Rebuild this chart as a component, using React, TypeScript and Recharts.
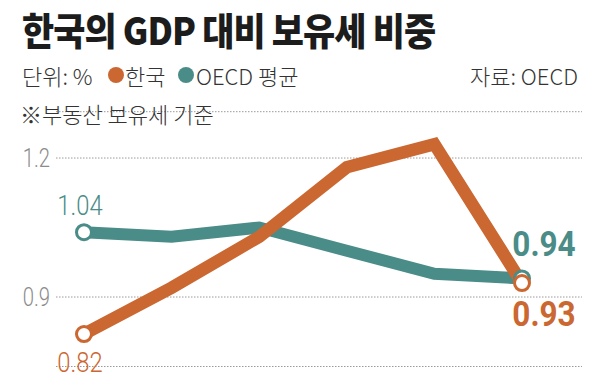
import React from 'react';
import {
  LineChart,
  Line,
  XAxis,
  YAxis,
  CartesianGrid,
  LabelList
} from 'recharts';

// 보유세 / GDP (%), 6개 시점
const periods = ['1', '2', '3', '4', '5', '6'];
const korea = [0.82, 0.92, 1.03, 1.18, 1.23, 0.93];
const oecd = [1.04, 1.03, 1.05, 1.0, 0.95, 0.94];
const yTicks = [0.9, 1.2];

const KOREA_COLOR = '#CB6731';
const OECD_COLOR = '#4A8C87';
const FONT = '"Noto Sans CJK KR", "Noto Sans", sans-serif';
const NUM_FONT = 'Roboto, "Noto Sans", sans-serif';

const chartData = periods.map((p, i) => ({
  idx: i,
  period: p,
  korea: korea[i],
  oecd: oecd[i]
}));

const lastIndex = periods.length - 1;

// 처음과 마지막 점에만 흰 원
function endDot(color: string) {
  return (props: any) => {
    const { cx, cy, index } = props;
    if (index !== 0 && index !== lastIndex) return <g key={`d-${index}`} />;
    return (
      <circle
        key={`d-${index}`}
        cx={cx}
        cy={cy}
        r={7.5}
        fill="#fff"
        stroke={color}
        strokeWidth={3}
      />
    );
  };
}

function YTick(props: any) {
  const { x, y, payload } = props;
  return (
    <text
      transform={`translate(${x},${y}) scale(0.78,1)`}
      textAnchor="end"
      dominantBaseline="central"
      fill="#8c8c8c"
      fontFamily={NUM_FONT}
      fontWeight={300}
      fontSize={26}
    >
      {payload.value}
    </text>
  );
}

// 시작값은 가는 글씨, 끝값은 굵은 글씨
function endLabel(color: string, startDy: number, endDy: number) {
  return (props: any) => {
    const { x, y, value, index } = props;
    if (index === 0) {
      return (
        <text
          transform={`translate(${x - 4},${y + startDy}) scale(0.85,1)`}
          textAnchor="middle"
          fill={color}
          fontFamily={NUM_FONT}
          fontWeight={300}
          fontSize={28}
        >
          {Number(value).toFixed(2)}
        </text>
      );
    }
    if (index === lastIndex) {
      return (
        <text
          transform={`translate(${x + 22},${y + endDy}) scale(0.9,1)`}
          textAnchor="middle"
          fill={color}
          fontFamily={NUM_FONT}
          fontWeight={700}
          fontSize={35}
        >
          {Number(value).toFixed(2)}
        </text>
      );
    }
    return null;
  };
}

export default function App() {
  return (
    <div
      style={{
        position: 'absolute',
        left: 0,
        top: 0,
        width: 609,
        height: 378,
        background: '#fff',
        fontFamily: FONT,
        overflow: 'hidden'
      }}
    >
      <LineChart
        width={609}
        height={378}
        data={chartData}
        margin={{ top: 111.7, right: 27, bottom: 11.5, left: 0 }}
        style={{ overflow: 'visible' }}
      >
        <CartesianGrid
          vertical={false}
          stroke="#9a9a9a"
          strokeDasharray="1.5 1.5"
        />
        <XAxis
          dataKey="idx"
          type="number"
          domain={[-0.3196, 5.685]}
          hide
        />
        <YAxis
          domain={[0.75, 1.3]}
          ticks={yTicks}
          width={56}
          axisLine={false}
          tickLine={false}
          tickMargin={0}
          tick={<YTick />}
        />
        <Line
          dataKey="oecd"
          stroke={OECD_COLOR}
          strokeWidth={12}
          dot={endDot(OECD_COLOR)}
          activeDot={false}
          isAnimationActive={false}
        >
          <LabelList dataKey="oecd" content={endLabel(OECD_COLOR, -17, -22)} />
        </Line>
        <Line
          dataKey="korea"
          stroke={KOREA_COLOR}
          strokeWidth={12.5}
          dot={endDot(KOREA_COLOR)}
          activeDot={false}
          isAnimationActive={false}
        >
          <LabelList dataKey="korea" content={endLabel(KOREA_COLOR, 38, 43)} />
        </Line>
      </LineChart>

      {/* 제목과 범례 */}
      <div
        style={{
          position: 'absolute',
          left: 22,
          top: 6,
          fontSize: 38,
          lineHeight: '46px',
          fontWeight: 900,
          color: '#1c1c1c',
          whiteSpace: 'nowrap',
          transform: 'scaleX(0.92)',
          transformOrigin: 'left top',
          letterSpacing: -1
        }}
      >
        한국의 GDP 대비 보유세 비중
      </div>
      <div
        style={{
          position: 'absolute',
          left: 0,
          top: 60,
          width: 609,
          height: 30,
          fontSize: 22,
          lineHeight: '30px',
          fontWeight: 300,
          color: '#333',
          whiteSpace: 'nowrap'
        }}
      >
        <span style={{ position: 'absolute', left: 22 }}>단위: %</span>
        <span
          style={{
            position: 'absolute',
            left: 108,
            top: 7,
            width: 16,
            height: 16,
            borderRadius: '50%',
            background: KOREA_COLOR
          }}
        />
        <span style={{ position: 'absolute', left: 125 }}>한국</span>
        <span
          style={{
            position: 'absolute',
            left: 178,
            top: 7,
            width: 16,
            height: 16,
            borderRadius: '50%',
            background: OECD_COLOR
          }}
        />
        <span style={{ position: 'absolute', left: 196 }}>OECD 평균</span>
        <span style={{ position: 'absolute', right: 31 }}>자료: OECD</span>
      </div>
      <div
        style={{
          position: 'absolute',
          left: 20,
          top: 98,
          fontSize: 22,
          lineHeight: '30px',
          fontWeight: 300,
          color: '#333',
          whiteSpace: 'nowrap'
        }}
      >
        ※부동산 보유세 기준
      </div>
    </div>
  );
}
